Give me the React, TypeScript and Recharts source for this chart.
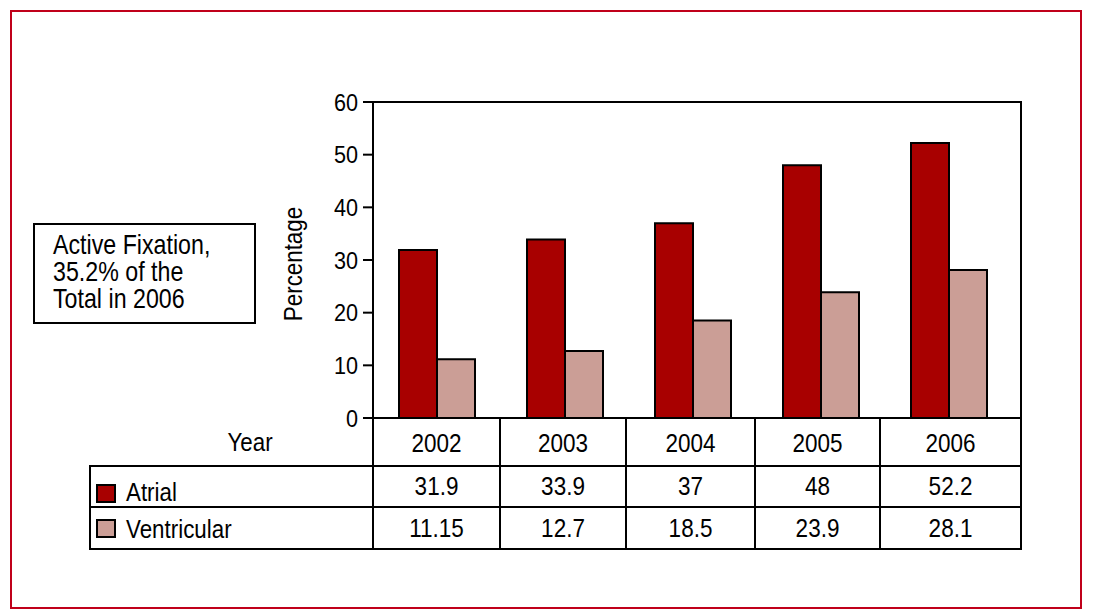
import React from 'react';
import { BarChart, Bar, XAxis, YAxis } from 'recharts';

const years = ['2002', '2003', '2004', '2005', '2006'];
const atrial = [31.9, 33.9, 37, 48, 52.2];
const ventricular = [11.15, 12.7, 18.5, 23.9, 28.1];
const yTicks = [0, 10, 20, 30, 40, 50, 60];
const seriesNames = ['Atrial', 'Ventricular'];
const noteLines = ['Active Fixation,', '35.2% of the', 'Total in 2006'];
const xTitle = 'Year';
const yTitle = 'Percentage';

const data = years.map((y, i) => ({ year: y, atrial: atrial[i], ventricular: ventricular[i] }));

const FONT = "'Liberation Sans', Arial, sans-serif";
const ATRIAL = '#a80000';
const VENT = '#cb9e96';
const BORDER = '#c0001a';
const SX = 0.86;
const SXD = 0.9;

// layout constants
const colEdges = [373, 500, 626, 755, 880, 1021];
const rowLines = [466, 507, 549];

type NTProps = { x: number; y: number; size: number; sx?: number; anchor?: 'start' | 'middle' | 'end'; rotate?: number; dy?: string; children: React.ReactNode };
function NT({ x, y, size, sx = SX, anchor = 'start', rotate = 0, dy, children }: NTProps) {
  return (
    <text
      transform={`translate(${x},${y}) rotate(${rotate}) scale(${sx},1)`}
      x={0}
      y={0}
      dy={dy}
      textAnchor={anchor}
      fontSize={size}
      fontFamily={FONT}
      fill="#000"
    >
      {children}
    </text>
  );
}

function YTick(props: any) {
  const { x, y, payload } = props;
  return (
    <NT x={x} y={y} size={24} sx={SXD} anchor="end" dy="0.36em">
      {String(payload.value)}
    </NT>
  );
}

export default function App() {
  const seriesValues = [atrial, ventricular];
  const seriesColors = [ATRIAL, VENT];
  const valueBaselines = [495, 537];
  const legendBaselines = [501, 538];
  const swatchY = [485, 520];
  return (
    <div style={{ position: 'absolute', left: 0, top: 0, width: 1094, height: 616, background: '#fff', fontFamily: FONT }}>
      <div style={{ position: 'absolute', left: 0, top: 0 }}>
        <BarChart
          width={1094}
          height={616}
          data={data}
          margin={{ top: 102, right: 73, bottom: 198, left: 313 }}
          barGap={0}
          barSize={38}
        >
          <XAxis dataKey="year" hide padding={{ left: 0, right: 8 }} />
          <YAxis
            domain={[0, 60]}
            ticks={yTicks}
            interval={0}
            width={60}
            tickSize={10}
            tickMargin={5}
            axisLine={{ stroke: '#000', strokeWidth: 2 }}
            tickLine={{ stroke: '#000', strokeWidth: 2 }}
            tick={<YTick />}
          />
          <Bar dataKey="atrial" fill={ATRIAL} stroke="#000" strokeWidth={2} isAnimationActive={false} />
          <Bar dataKey="ventricular" fill={VENT} stroke="#000" strokeWidth={2} isAnimationActive={false} />
        </BarChart>
      </div>
      <svg width={1094} height={616} style={{ position: 'absolute', left: 0, top: 0, pointerEvents: 'none' }}>
        {/* outer border */}
        <rect x={11} y={11} width={1070} height={597} fill="none" stroke={BORDER} strokeWidth={2} />
        {/* plot frame */}
        <line x1={372} y1={102} x2={1022} y2={102} stroke="#000" strokeWidth={2} />
        <line x1={1021} y1={101} x2={1021} y2={550} stroke="#000" strokeWidth={2} />
        <line x1={373} y1={418} x2={1022} y2={418} stroke="#000" strokeWidth={2} />
        {/* table */}
        {colEdges.map((x) => (
          <line key={'c' + x} x1={x} y1={417} x2={x} y2={550} stroke="#000" strokeWidth={2} />
        ))}
        {rowLines.map((y) => (
          <line key={'r' + y} x1={89} y1={y} x2={1022} y2={y} stroke="#000" strokeWidth={2} />
        ))}
        <line x1={90} y1={465} x2={90} y2={550} stroke="#000" strokeWidth={2} />
        <NT x={250} y={451} size={26} anchor="middle">{xTitle}</NT>
        {years.map((y, i) => (
          <NT key={y} x={(colEdges[i] + colEdges[i + 1]) / 2} y={452} size={25} sx={SXD} anchor="middle">{y}</NT>
        ))}
        {seriesValues.map((vals, s) =>
          vals.map((v, i) => (
            <NT key={s + '-' + i} x={(colEdges[i] + colEdges[i + 1]) / 2} y={valueBaselines[s]} size={25} sx={SXD} anchor="middle">{String(v)}</NT>
          ))
        )}
        {seriesNames.map((n, s) => (
          <g key={n}>
            <rect x={97} y={swatchY[s]} width={18} height={17} fill={seriesColors[s]} stroke="#000" strokeWidth={2} />
            <NT x={126} y={legendBaselines[s]} size={26}>{n}</NT>
          </g>
        ))}
        {/* y-axis title */}
        <NT x={302} y={264} size={26} rotate={-90} anchor="middle">{yTitle}</NT>
        {/* annotation */}
        <rect x={34} y={224} width={221} height={99} fill="#fff" stroke="#000" strokeWidth={2} />
        {noteLines.map((t, i) => (
          <NT key={t} x={53} y={254 + i * 27} size={27}>{t}</NT>
        ))}
      </svg>
    </div>
  );
}
